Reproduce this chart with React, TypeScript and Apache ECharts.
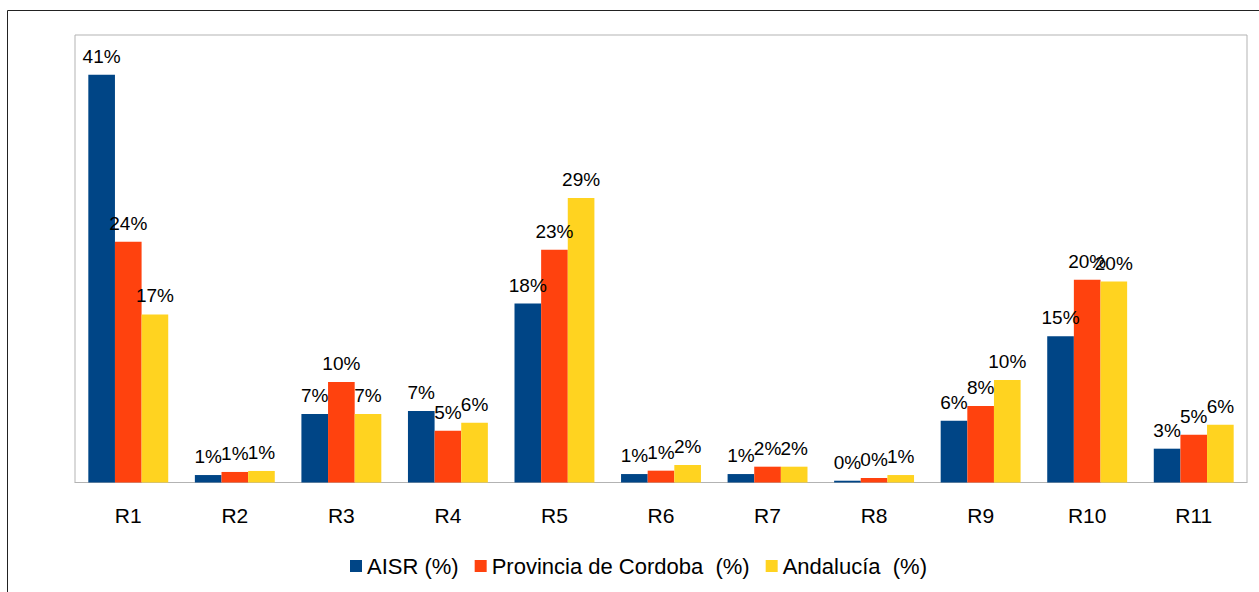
import React, { useEffect, useRef } from "react";
import * as echarts from "echarts";

const categories = ["R1", "R2", "R3", "R4", "R5", "R6", "R7", "R8", "R9", "R10", "R11"];
const aisr = [41.0, 0.75, 6.9, 7.2, 18.0, 0.85, 0.85, 0.18, 6.2, 14.7, 3.4];
const cordoba = [24.2, 1.06, 10.1, 5.2, 23.4, 1.19, 1.59, 0.45, 7.7, 20.4, 4.8];
const andalucia = [16.9, 1.16, 6.9, 6.0, 28.6, 1.76, 1.59, 0.75, 10.3, 20.2, 5.8];
const seriesNames = ["AISR (%)", "Provincia de Cordoba  (%)", "Andalucía  (%)"];
const colors = ["#004586", "#ff420e", "#ffd320"];

export default function App() {
  const ref = useRef<HTMLDivElement>(null);
  useEffect(() => {
    if (!ref.current) return;
    const chart = echarts.init(ref.current, undefined, { renderer: "svg" });
    const font = "'Liberation Sans', Arial, sans-serif";
    const mk = (name: string, data: number[], color: string) => ({
      name,
      type: "bar",
      data,
      barGap: "0%",
      barCategoryGap: "25%",
      itemStyle: { color },
      label: {
        show: true,
        position: "top",
        distance: 9,
        fontSize: 19,
        fontFamily: font,
        color: "#000",
        formatter: (p: any) => Math.round(p.value) + "%",
      },
    });
    chart.setOption({
      animation: false,
      textStyle: { fontFamily: font },
      grid: {
        left: 75,
        top: 35,
        right: 12,
        bottom: 109.5,
        show: true,
        borderColor: "#b3b3b3",
        borderWidth: 1,
      },
      legend: {
        left: 345,
        top: 550,
        itemWidth: 12,
        itemHeight: 12,
        itemGap: 16,
        icon: "rect",
        textStyle: { fontSize: 22, fontFamily: font, color: "#000" },
        data: seriesNames,
      },
      xAxis: {
        type: "category",
        data: categories,
        axisLine: { lineStyle: { color: "#b3b3b3" } },
        axisTick: { length: 11, lineStyle: { color: "#b3b3b3" } },
        axisLabel: { fontSize: 21, fontFamily: font, color: "#000", margin: 22 },
      },
      yAxis: {
        type: "value",
        min: 0,
        max: 45,
        interval: 5,
        axisLabel: { show: false },
        axisLine: { show: false },
        axisTick: { show: false },
        splitLine: { show: false },
      },
      graphic: [
        {
          type: "rect",
          shape: { x: 7.5, y: 10.5, width: 1400, height: 800 },
          style: { fill: "none", stroke: "#222", lineWidth: 1 },
          silent: true,
        },
      ],
      series: [
        mk(seriesNames[0], aisr, colors[0]),
        mk(seriesNames[1], cordoba, colors[1]),
        mk(seriesNames[2], andalucia, colors[2]),
      ],
    });
    return () => chart.dispose();
  }, []);
  return (
    <div
      ref={ref}
      style={{ position: "absolute", left: 0, top: 0, width: 1259, height: 592, background: "#fff" }}
    />
  );
}
